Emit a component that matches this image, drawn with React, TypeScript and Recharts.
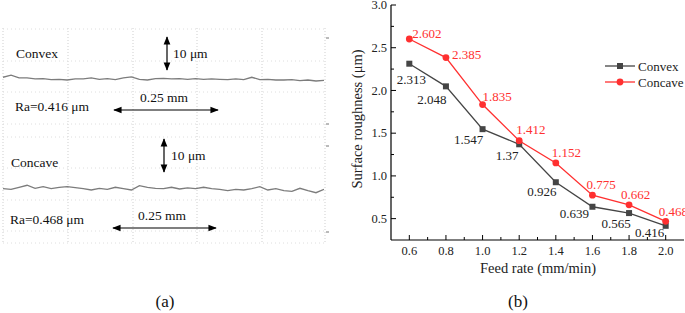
import React from "react";
import { LineChart, Line, XAxis, YAxis, LabelList } from "recharts";

// ---------- Data: panel (b) ----------
const feedRate = [0.6, 0.8, 1.0, 1.2, 1.4, 1.6, 1.8, 2.0];
const convexRa = [2.313, 2.048, 1.547, 1.37, 0.926, 0.639, 0.565, 0.416];
const concaveRa = [2.602, 2.385, 1.835, 1.412, 1.152, 0.775, 0.662, 0.468];
const xMajorTicks = [0.6, 0.8, 1.0, 1.2, 1.4, 1.6, 1.8, 2.0];
const xMinorTicks = [0.7, 0.9, 1.1, 1.3, 1.5, 1.7, 1.9];
const yMajorTicks = [0.5, 1.0, 1.5, 2.0, 2.5, 3.0];
const yMinorTicks = [0.75, 1.25, 1.75, 2.25, 2.75];

// ---------- Data: panel (a) profile traces (mm, µm) ----------
const profilePos = [
  0, 0.02, 0.04, 0.06, 0.08, 0.1, 0.12, 0.14, 0.16, 0.18, 0.2, 0.22, 0.24, 0.26,
  0.28, 0.3, 0.32, 0.34, 0.36, 0.38, 0.4, 0.42, 0.44, 0.46, 0.48, 0.5, 0.52, 0.54,
  0.56, 0.58, 0.6, 0.62, 0.64, 0.66, 0.68, 0.7, 0.72, 0.74, 0.76, 0.78, 0.8,
];
const convexProfile = [
  0.8, 1.4, 0.6, 0.6, 0.3, 0.4, 0.1, 0.2, 0, 0.3, 0.3, 0.6, 0.2, 0.4, 0.1, 0.6,
  0.9, 0.2, 0, 0.4, 0.5, 0.3, 0.4, 0.2, 0.4, 0.2, 0.3, 0.2, 0.1, 0.3, 0.1, 0.8,
  0.1, 0.2, 0, 0, 0.1, -0.2, 0, -0.3, -0.1,
];
const concaveProfile = [
  0, -0.2, 0.4, 1.0, 0.1, 0.6, 0, 0.4, 0.6, 0.3, 0, -0.4, 0.1, -0.2, 0.4, 0,
  -0.4, 0.9, 0.4, 0.1, 0, 0.4, -0.1, 0.2, 0, 0.4, 0, -0.2, -0.6, -0.2, -0.4, 0,
  0.6, -0.4, 0, -0.6, -0.8, 0.1, -0.6, -1.2, -0.2,
];

const chartData = feedRate.map((f, i) => ({ f, convex: convexRa[i], concave: concaveRa[i] }));
const convexTrace = profilePos.map((p, i) => ({ p, h: convexProfile[i] }));
const concaveTrace = profilePos.map((p, i) => ({ p, h: concaveProfile[i] }));

// ---------- Style ----------
const SERIF = "'Liberation Serif', 'Times New Roman', serif";
const GRAY = "#454545";
const RED = "#ff3030";
// manual label placements (Origin-style dragged labels), relative to point
const convexLabelShift = [[2, 20], [-14, 18], [-14, 15], [-12, 16], [-14, 14], [-18, 11], [-13, 15], [-16, 11]];
const concaveLabelShift = [[3, -1.5], [6, 1], [0, -4], [-3, -7], [-4, -6], [-6, -6], [-8, -6], [-7, -5]];

const isIn = (arr: number[], v: number) => arr.some((a) => Math.abs(a - v) < 1e-6);

const XTick = (props: any) => {
  const { x, y, payload } = props;
  const v = payload.value;
  const major = isIn(xMajorTicks, v);
  return (
    <g>
      <line x1={x} x2={x} y1={y} y2={y - (major ? 5 : 3)} stroke="#000" strokeWidth={1} />
      {major && (
        <text x={x} y={y + 15} textAnchor="middle" fontFamily={SERIF} fontSize={12.5} fill="#222">
          {v.toFixed(1)}
        </text>
      )}
    </g>
  );
};

const YTick = (props: any) => {
  const { x, y, payload } = props;
  const v = payload.value;
  const major = isIn(yMajorTicks, v);
  return (
    <g>
      <line x1={x} x2={x + (major ? 5 : 3)} y1={y} y2={y} stroke="#000" strokeWidth={1} />
      {major && (
        <text x={x - 4} y={y + 4.3} textAnchor="end" fontFamily={SERIF} fontSize={12.5} fill="#222">
          {v.toFixed(1)}
        </text>
      )}
    </g>
  );
};

const SquareDot = (props: any) => {
  const { cx, cy, index } = props;
  return <rect key={`sq-${index}`} x={cx - 3} y={cy - 3} width={6} height={6} fill={GRAY} />;
};
const CircleDot = (props: any) => {
  const { cx, cy, index } = props;
  return <circle key={`ci-${index}`} cx={cx} cy={cy} r={3.4} fill={RED} />;
};

const ConvexLabel = (props: any) => {
  const { x, y, value, index } = props;
  const [dx, dy] = convexLabelShift[index] || [-14, 15];
  return (
    <text x={x + dx} y={y + dy} textAnchor="middle" fontFamily={SERIF} fontSize={13} fill="#222">
      {value}
    </text>
  );
};
const ConcaveLabel = (props: any) => {
  const { x, y, value, index } = props;
  const [dx, dy] = concaveLabelShift[index] || [-3, -5];
  return (
    <text x={x + dx} y={y + dy} textAnchor="start" fontFamily={SERIF} fontSize={13} fill={RED}>
      {value}
    </text>
  );
};

const abs = (l: number, t: number): React.CSSProperties => ({ position: "absolute", left: l, top: t });

function ProfilePanel() {
  const vGrid = [3, 68, 133, 197, 262, 325];
  const hGrid = [29, 61, 92, 124, 137, 168, 200, 231, 243];
  const txt = { fontFamily: SERIF, fontSize: 13.5, fill: "#111" } as const;
  return (
    <>
      <svg width={335} height={250} style={abs(0, 0)}>
        {vGrid.map((x) => (
          <line key={`v${x}`} x1={x} x2={x} y1={28} y2={244} stroke="#cfcfcf" strokeWidth={1} strokeDasharray="1 2" />
        ))}
        {hGrid.map((y) => (
          <line key={`h${y}`} x1={3} x2={325} y1={y} y2={y} stroke="#dedede" strokeWidth={1} strokeDasharray="1 3" />
        ))}
        {[38, 124, 146, 232].map((y) => (
          <line key={`r${y}`} x1={326} x2={329} y1={y} y2={y} stroke="#777" strokeWidth={1} />
        ))}
      </svg>
      <div style={abs(3, 28)}>
        <LineChart width={321} height={105} data={convexTrace} margin={{ top: 0, right: 0, bottom: 0, left: 0 }}>
          <XAxis dataKey="p" type="number" domain={[0, 0.8]} hide />
          <YAxis type="number" domain={[-15.6, 15.3]} hide />
          <Line dataKey="h" stroke="#7c7c7c" strokeWidth={1.3} dot={false} isAnimationActive={false} />
        </LineChart>
      </div>
      <div style={abs(3, 135)}>
        <LineChart width={321} height={110} data={concaveTrace} margin={{ top: 0, right: 0, bottom: 0, left: 0 }}>
          <XAxis dataKey="p" type="number" domain={[0, 0.8]} hide />
          <YAxis type="number" domain={[-16.6, 15.8]} hide />
          <Line dataKey="h" stroke="#7c7c7c" strokeWidth={1.3} dot={false} isAnimationActive={false} />
        </LineChart>
      </div>
      <svg width={335} height={313} style={abs(0, 0)}>
        <defs>
          <marker id="ah" viewBox="0 0 10 10" refX="9" refY="5" markerWidth="7" markerHeight="7" orient="auto-start-reverse">
            <path d="M0,1 L10,5 L0,9 z" fill="#000" />
          </marker>
        </defs>
        {/* Convex */}
        <text x={16} y={58} {...txt}>Convex</text>
        <line x1={167} x2={167} y1={37} y2={70} stroke="#000" strokeWidth={1.2} markerStart="url(#ah)" markerEnd="url(#ah)" />
        <text x={173} y={58} {...txt}>10 μm</text>
        <text x={15} y={111} {...txt}>Ra=0.416 μm</text>
        <text x={140} y={102} {...txt}>0.25 mm</text>
        <line x1={114} x2={218} y1={110} y2={110} stroke="#000" strokeWidth={1.2} markerStart="url(#ah)" markerEnd="url(#ah)" />
        {/* Concave */}
        <text x={11} y={167} {...txt}>Concave</text>
        <line x1={164} x2={164} y1={139} y2={172} stroke="#000" strokeWidth={1.2} markerStart="url(#ah)" markerEnd="url(#ah)" />
        <text x={171} y={160} {...txt}>10 μm</text>
        <text x={10} y={224} {...txt}>Ra=0.468 μm</text>
        <text x={138} y={220} {...txt}>0.25 mm</text>
        <line x1={113} x2={216} y1={228} y2={228} stroke="#000" strokeWidth={1.2} markerStart="url(#ah)" markerEnd="url(#ah)" />
        <text x={165} y={307} textAnchor="middle" fontFamily={SERIF} fontSize={17} fill="#111">(a)</text>
      </svg>
    </>
  );
}

function RoughnessPanel() {
  return (
    <>
      <div style={abs(340, 0)}>
        <LineChart width={345} height={313} data={chartData} margin={{ top: 5, right: 1, bottom: 43, left: 0 }}>
          <XAxis
            dataKey="f"
            type="number"
            domain={[0.5, 2.1]}
            ticks={[...xMajorTicks, ...xMinorTicks].sort((a, b) => a - b)}
            interval={0}
            tick={<XTick />}
            tickLine={false}
            tickSize={0}
            tickMargin={0}
            height={30}
            axisLine={{ stroke: "#000", strokeWidth: 1.2 }}
            allowDataOverflow
          />
          <XAxis xAxisId="top" orientation="top" type="number" domain={[0.5, 2.1]} tick={false} tickLine={false} height={0} axisLine={{ stroke: "#000", strokeWidth: 1.2 }} />
          <YAxis
            type="number"
            domain={[0.25, 3.0]}
            ticks={[...yMajorTicks, ...yMinorTicks].sort((a, b) => a - b)}
            interval={0}
            tick={<YTick />}
            tickLine={false}
            tickSize={0}
            tickMargin={0}
            width={51}
            axisLine={{ stroke: "#000", strokeWidth: 1.2 }}
            allowDataOverflow
          />
          <YAxis yAxisId="right" orientation="right" type="number" domain={[0.25, 3.0]} tick={false} tickLine={false} width={0} axisLine={{ stroke: "#000", strokeWidth: 1.2 }} />
          <Line dataKey="convex" stroke={GRAY} strokeWidth={1.3} dot={<SquareDot />} isAnimationActive={false}>
            <LabelList dataKey="convex" content={<ConvexLabel />} />
          </Line>
          <Line dataKey="concave" stroke={RED} strokeWidth={1.3} dot={<CircleDot />} isAnimationActive={false}>
            <LabelList dataKey="concave" content={<ConcaveLabel />} />
          </Line>
        </LineChart>
      </div>
      <svg width={685} height={313} style={{ ...abs(0, 0), pointerEvents: "none" }}>
        {/* legend */}
        <line x1={605} x2={635} y1={66} y2={66} stroke={GRAY} strokeWidth={1.3} />
        <rect x={617} y={63} width={6} height={6} fill={GRAY} />
        <text x={638} y={70.5} fontFamily={SERIF} fontSize={13} fill="#222">Convex</text>
        <line x1={605} x2={635} y1={82} y2={82} stroke={RED} strokeWidth={1.3} />
        <circle cx={620} cy={82} r={3.4} fill={RED} />
        <text x={638} y={86.5} fontFamily={SERIF} fontSize={13} fill="#222">Concave</text>
        {/* axis titles */}
        <text x={538} y={273} textAnchor="middle" fontFamily={SERIF} fontSize={14.5} fill="#222">Feed rate (mm/min)</text>
        <text
          x={0}
          y={0}
          transform="translate(361.5,119) rotate(-90)"
          textAnchor="middle"
          fontFamily={SERIF}
          fontSize={14.5}
          fill="#222"
        >
          Surface roughness (μm)
        </text>
        <text x={518} y={307} textAnchor="middle" fontFamily={SERIF} fontSize={17} fill="#111">(b)</text>
      </svg>
    </>
  );
}

export default function App() {
  return (
    <div style={{ position: "absolute", left: 0, top: 0, width: 685, height: 313, background: "#fff", overflow: "hidden" }}>
      <ProfilePanel />
      <RoughnessPanel />
    </div>
  );
}
